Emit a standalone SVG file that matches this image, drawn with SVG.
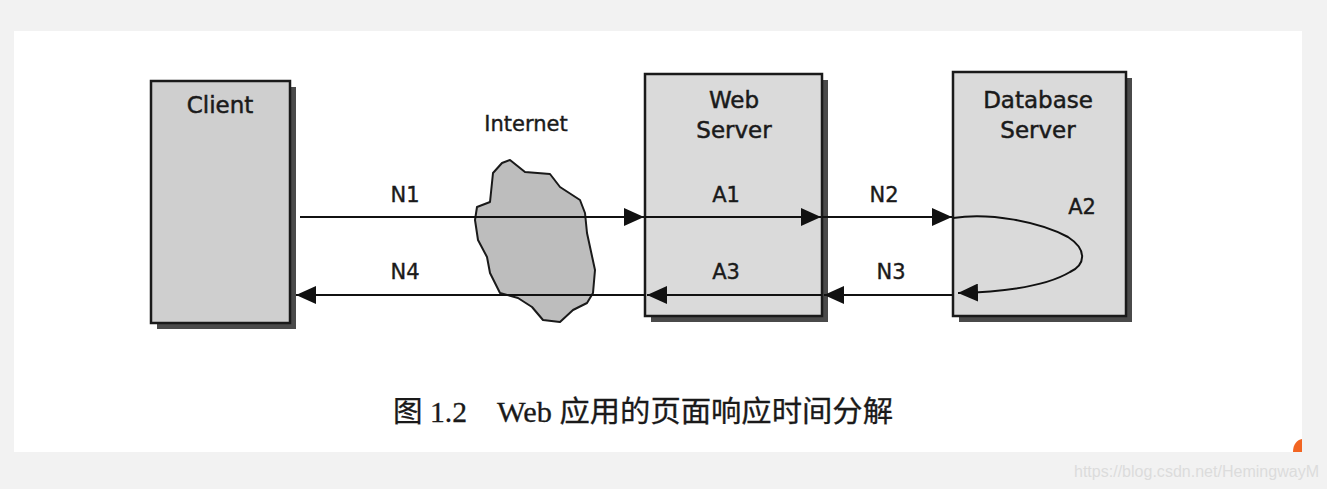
<svg xmlns="http://www.w3.org/2000/svg" width="1327" height="489" viewBox="0 0 1327 489">
<defs>
<style>
.box{stroke:#1a1a1a;stroke-width:2.5}
.shadow{fill:#4a4a4a}
.lbl{font-family:"DejaVu Sans",Verdana,sans-serif;font-size:21px;fill:#1a1a1a;stroke:#1a1a1a;stroke-width:0.4;text-anchor:middle}
.title{font-family:"DejaVu Sans",Verdana,sans-serif;font-size:23px;fill:#1a1a1a;stroke:#1a1a1a;stroke-width:0.5;text-anchor:middle}
.conn{stroke:#111;stroke-width:2;fill:none}
</style>
<marker id="ah" viewBox="0 0 20 18" refX="20" refY="9" markerWidth="20" markerHeight="18" markerUnits="userSpaceOnUse" orient="auto">
<path d="M0,0 L20,9 L0,18 Z" fill="#111"/>
</marker>
</defs>
<rect width="1327" height="489" fill="#f2f2f2"/>
<rect x="14" y="31" width="1288" height="421" fill="#ffffff"/>

<g id="client">
<rect class="shadow" x="157" y="87" width="139" height="242"/>
<rect class="box" x="151" y="81" width="139" height="242" fill="#cfcfcf"/>
<text class="title" x="220" y="113">Client</text>
</g>

<g id="internet">
<text class="lbl" x="526" y="131">Internet</text>
<path d="M510,160 L525,172 L550,174 L560,187 L580,200 L585,213 L587,233 L595,270 L593,293 L587,303 L573,310 L560,322 L543,320 L532,307 L518,298 L500,293 L490,273 L487,257 L478,240 L475,220 L477,207 L490,202 L493,173 L502,163 Z" fill="#bdbdbd" stroke="#1a1a1a" stroke-width="2" stroke-linejoin="round"/>
</g>

<g id="webserver">
<rect class="shadow" x="651" y="80" width="177" height="242"/>
<rect class="box" x="645" y="74" width="177" height="242" fill="#dadada"/>
<text class="title" x="734" y="108">Web</text>
<text class="title" x="734" y="138">Server</text>
</g>

<g id="dbserver">
<rect class="shadow" x="959" y="78" width="173" height="244"/>
<rect class="box" x="953" y="72" width="173" height="244" fill="#dadada"/>
<text class="title" x="1038" y="108">Database</text>
<text class="title" x="1038" y="138">Server</text>
</g>

<g id="connectors">
<line class="conn" x1="300" y1="217" x2="644" y2="217" marker-end="url(#ah)"/>
<line class="conn" x1="645" y1="217" x2="821" y2="217" marker-end="url(#ah)"/>
<line class="conn" x1="822" y1="217" x2="952" y2="217" marker-end="url(#ah)"/>
<path class="conn" d="M953,218 C990,212 1040,222 1068,237 C1088,250 1085,265 1070,272 C1045,287 1000,292 958,293" marker-end="url(#ah)"/>
<line class="conn" x1="953" y1="295" x2="824" y2="295" marker-end="url(#ah)"/>
<line class="conn" x1="822" y1="295" x2="647" y2="295" marker-end="url(#ah)"/>
<line class="conn" x1="645" y1="295" x2="296" y2="295" marker-end="url(#ah)"/>
<text class="lbl" x="405" y="202">N1</text>
<text class="lbl" x="726" y="202">A1</text>
<text class="lbl" x="884" y="202">N2</text>
<text class="lbl" x="1082" y="214">A2</text>
<text class="lbl" x="405" y="279">N4</text>
<text class="lbl" x="726" y="279">A3</text>
<text class="lbl" x="891" y="279">N3</text>
</g>

<text x="393" y="422" font-family="'Liberation Serif','Noto Sans CJK SC',serif" font-size="29" fill="#1a1a1a" stroke="#1a1a1a" stroke-width="0.3"><tspan textLength="74" lengthAdjust="spacingAndGlyphs">图 1.2</tspan><tspan x="497" textLength="396" lengthAdjust="spacingAndGlyphs">Web 应用的页面响应时间分解</tspan></text>

<path d="M1293,452 C1293,444 1297,440 1302,439 L1302,452 Z" fill="#f26522"/>
<text x="1074" y="477" font-family="'Liberation Sans',Arial,sans-serif" font-size="16" fill="#dcdcdc" textLength="245" lengthAdjust="spacingAndGlyphs">https://blog.csdn.net/HemingwayM</text>
</svg>
